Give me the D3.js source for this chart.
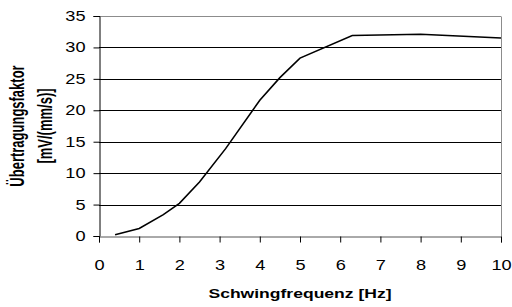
<!DOCTYPE html>
<html>
<head>
<meta charset="utf-8">
<script src="https://cdn.jsdelivr.net/npm/d3@7"></script>
<style>
  body { margin: 0; background: #fff; }
  svg { display: block; font-family: "Liberation Sans", Arial, sans-serif; }
</style>
</head>
<body>
<div id="chart"></div>
<script>
// Frequency response data
const frequencies = [0.4, 1, 1.6, 2, 2.5, 3.15, 4, 4.5, 5, 6.3, 8, 10];
const factors = [0.2, 1.2, 3.4, 5.2, 8.6, 13.9, 21.6, 25.2, 28.3, 31.9, 32.1, 31.5];
const xTicks = [0, 1, 2, 3, 4, 5, 6, 7, 8, 9, 10];
const yTicks = [0, 5, 10, 15, 20, 25, 30, 35];

const width = 512, height = 307;
const margin = { top: 16, right: 11, bottom: 71, left: 99 };
const innerW = width - margin.left - margin.right;
const innerH = height - margin.top - margin.bottom;
// the original picture is stretched sideways, so the text is too
const stretch = 1.3;

const svg = d3.select('#chart').append('svg')
    .attr('width', width)
    .attr('height', height);

const g = svg.append('g')
    .attr('transform', `translate(${margin.left},${margin.top})`);

const x = d3.scaleLinear().domain([0, 10]).range([0, innerW]);
const y = d3.scaleLinear().domain([0, 35]).range([innerH, 0]);

// Gridlines
g.selectAll('.grid')
    .data(yTicks.filter(d => d > 0))
    .enter()
    .append('line')
    .attr('x1', 0)
    .attr('x2', innerW)
    .attr('y1', d => Math.round(y(d)) + 0.5)
    .attr('y2', d => Math.round(y(d)) + 0.5)
    .attr('stroke', d => d === 35 ? '#8c8c8c' : '#000')
    .attr('stroke-width', 1);

// Right border
g.append('line')
    .attr('x1', innerW + 0.5).attr('x2', innerW + 0.5)
    .attr('y1', Math.round(y(35)) + 0.5).attr('y2', Math.round(y(0)) + 0.5)
    .attr('stroke', '#8c8c8c');

// Axes
const yAxis = g.append('g')
    .attr('transform', 'translate(0.5,0)')
    .call(d3.axisLeft(y).tickValues(yTicks).tickSize(6).tickPadding(8));
const xAxis = g.append('g')
    .attr('transform', `translate(0,${Math.round(innerH) + 0.5})`)
    .call(d3.axisBottom(x).tickValues(xTicks).tickSize(6).tickPadding(18));

[yAxis, xAxis].forEach(ax => {
    ax.select('.domain').attr('stroke', '#000');
    ax.selectAll('.tick line').attr('stroke', '#000');
    ax.selectAll('text')
        .attr('fill', '#000')
        .style('font-size', '14px');
});
xAxis.select('.domain').attr('stroke', '#555');

yAxis.selectAll('.tick text')
    .attr('x', null)
    .attr('transform', `translate(-14,0) scale(${stretch},1)`);
xAxis.selectAll('.tick text')
    .attr('transform', `scale(${stretch},1)`);

// Curve
const line = d3.line()
    .x((d, i) => x(frequencies[i]))
    .y(d => y(d));

g.append('path')
    .datum(factors)
    .attr('fill', 'none')
    .attr('stroke', '#000')
    .attr('stroke-width', 1.6)
    .attr('d', line);

// Axis titles
svg.append('text')
    .attr('transform', `translate(300,298) scale(${stretch},1)`)
    .attr('text-anchor', 'middle')
    .style('font-size', '13.5px')
    .style('font-weight', 'bold')
    .text('Schwingfrequenz [Hz]');

const yTitle = svg.append('text')
    .attr('transform', 'translate(24,126) scale(1.5,1) rotate(-90)')
    .attr('text-anchor', 'middle')
    .style('font-size', '13px')
    .style('font-weight', 'bold');
yTitle.append('tspan').attr('x', 0).attr('y', 0).text('Übertragungsfaktor');
yTitle.append('tspan').attr('x', 0).attr('y', 19).text('[mV/(mm/s)]');
</script>
</body>
</html>
